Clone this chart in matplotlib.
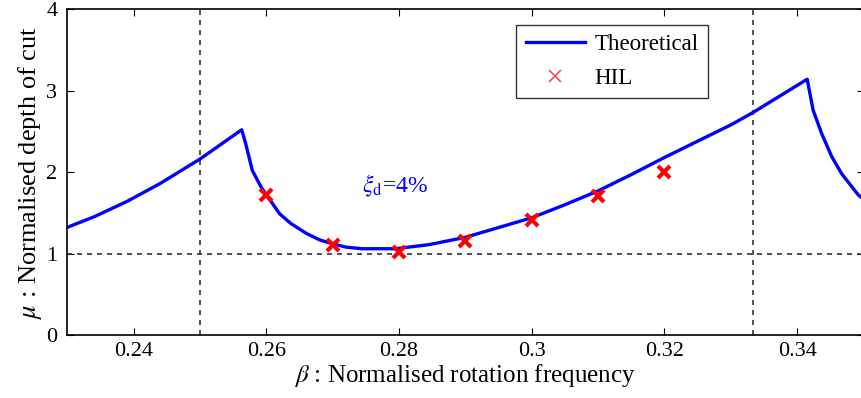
import matplotlib
matplotlib.use("Agg")
import matplotlib.pyplot as plt

# values
beta_theory = [0.229, 0.234, 0.239, 0.244, 0.25, 0.2563,
               0.2569, 0.2579, 0.2592, 0.2602, 0.262, 0.2637, 0.266, 0.268,
               0.27, 0.272, 0.2744, 0.2795, 0.2845,
               0.29, 0.295, 0.30, 0.305, 0.31, 0.315, 0.32, 0.325, 0.33,
               0.3333, 0.3371, 0.3415,
               0.3424, 0.3437, 0.3452, 0.3467, 0.3492, 0.351]
mu_theory = [1.29, 1.45, 1.64, 1.86, 2.16, 2.52,
             2.35, 2.02, 1.82, 1.70, 1.49, 1.37, 1.25, 1.17,
             1.12, 1.08, 1.06, 1.06, 1.11,
             1.20, 1.32, 1.44, 1.60, 1.77, 1.97, 2.18, 2.38, 2.58,
             2.73, 2.92, 3.14,
             2.76, 2.47, 2.19, 1.98, 1.72, 1.60]

beta_hil = [0.26, 0.27, 0.28, 0.29, 0.30, 0.31, 0.32]
mu_hil = [1.72, 1.11, 1.02, 1.16, 1.41, 1.71, 2.00]

xticks = [0.24, 0.26, 0.28, 0.3, 0.32, 0.34]
xtick_labels = ["0.24", "0.26", "0.28", "0.3", "0.32", "0.34"]
yticks = [0, 1, 2, 3, 4]

plt.rcParams['font.family'] = ['Liberation Serif', 'DejaVu Serif']
plt.rcParams['mathtext.fontset'] = 'stix'

fig = plt.figure(figsize=(8.61, 3.98), dpi=100)
ax = fig.add_axes([0.078, 0.158, 0.925, 0.819])

ax.axvline(0.25, color='#333333', lw=1.2, ls=(0, (3, 3)))
ax.axvline(1 / 3, color='#333333', lw=1.2, ls=(0, (3, 3)))
ax.axhline(1.0, color='#333333', lw=1.2, ls=(0, (3, 3)))

ax.plot(beta_theory, mu_theory, color='#0000ff', lw=2.4, label='Theoretical')
ax.plot(beta_hil, mu_hil, ls='none', marker='x', color='#ff0000',
        ms=9, mew=3, label='HIL')

ax.text(0.2744, 1.75, r'$\xi_{\rm d}$=4%', color='#0000ff', fontsize=17)

ax.set_xlim(0.23, 0.35)
ax.set_ylim(0, 4)
ax.set_xticks(xticks)
ax.set_xticklabels(xtick_labels)
ax.set_yticks(yticks)
ax.tick_params(direction='in', top=True, right=True, labelsize=16, length=5)
ax.tick_params(axis='x', pad=5)
ax.tick_params(axis='y', pad=7)
for s in ax.spines.values():
    s.set_linewidth(1.2)

ax.set_xlabel(r'$\beta$ : Normalised rotation frequency', fontsize=18, labelpad=1)
ax.set_ylabel(r'$\mu$ : Normalised depth of cut', fontsize=19, labelpad=2)

leg = ax.legend(loc='upper left', bbox_to_anchor=(0.564, 0.951), borderaxespad=0,
                fontsize=16.5, fancybox=False, framealpha=1, edgecolor='#333333',
                handlelength=2.6, handletextpad=0.4, borderpad=0.4, labelspacing=0.55)
leg.get_frame().set_linewidth(1.0)
leg.legend_handles[1].set_markeredgewidth(1.2)
leg.legend_handles[1].set_alpha(0.7)

fig.savefig('out.png', dpi=100)
